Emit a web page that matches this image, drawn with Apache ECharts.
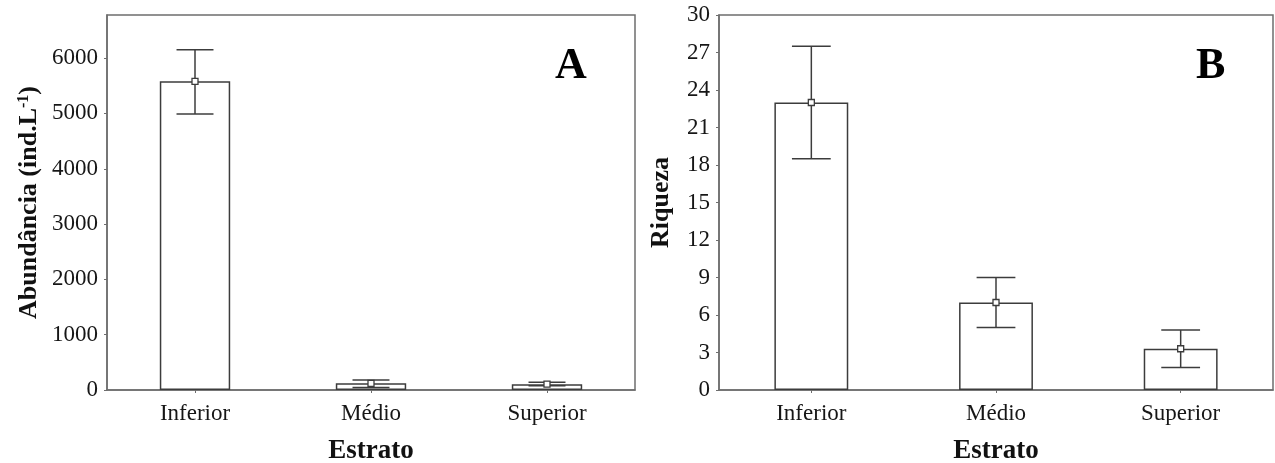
<!DOCTYPE html>
<html>
<head>
<meta charset="utf-8">
<script src="https://cdn.jsdelivr.net/npm/echarts@6/dist/echarts.min.js"></script>
<style>
html,body{margin:0;padding:0;background:#fff;}
#chart{width:1275px;height:463px;}
</style>
</head>
<body>
<div id="chart"></div>
<script>
const categories = ['Inferior', 'Médio', 'Superior'];
// Panel A: abundance (ind.L-1)
const abundMean = [5580, 120, 105];
const abundUpper = [6150, 180, 140];
const abundLower = [4990, 45, 75];
// Panel B: richness
const riqMean = [23, 7, 3.3];
const riqUpper = [27.5, 9, 4.8];
const riqLower = [18.5, 5, 1.8];

const FONT = '"Liberation Serif", "Times New Roman", serif';
const AX = '#6e6e6e';
const INK = '#3c3c3c';

function errData(mean, up, lo) {
  return mean.map((m, i) => [i, m, up[i], lo[i]]);
}

function renderErr(params, api) {
  const i = api.value(0);
  const pm = api.coord([i, api.value(1)]);
  const pu = api.coord([i, api.value(2)]);
  const pl = api.coord([i, api.value(3)]);
  const half = api.size([1, 0])[0] * 0.105;
  const st = { stroke: INK, lineWidth: 1.5 };
  const s = 6;
  return {
    type: 'group',
    children: [
      { type: 'line', shape: { x1: pu[0], y1: pu[1], x2: pl[0], y2: pl[1] }, style: st },
      { type: 'line', shape: { x1: pu[0] - half, y1: pu[1], x2: pu[0] + half, y2: pu[1] }, style: st },
      { type: 'line', shape: { x1: pl[0] - half, y1: pl[1], x2: pl[0] + half, y2: pl[1] }, style: st },
      { type: 'rect', shape: { x: pm[0] - s / 2, y: pm[1] - s / 2, width: s, height: s }, style: { fill: '#fff', stroke: INK, lineWidth: 1.3 } }
    ]
  };
}

function xAx(gi) {
  return {
    type: 'category', gridIndex: gi, data: categories,
    name: 'Estrato', nameLocation: 'middle', nameGap: 48,
    nameTextStyle: { fontFamily: FONT, fontWeight: 'bold', fontSize: 27, color: '#111' },
    axisLine: { lineStyle: { color: AX, width: 1.5 } },
    axisTick: { show: true, alignWithLabel: true, length: 3, inside: false, lineStyle: { color: AX } },
    axisLabel: { fontFamily: FONT, fontSize: 23, color: '#161616', margin: 12 },
    splitLine: { show: false }
  };
}

const plainNum = v => String(v);

const option = {
  backgroundColor: '#fff',
  animation: false,
  title: [
    { text: 'A', left: 555, top: 45, padding: 0, textStyle: { fontFamily: FONT, fontWeight: 'bold', fontSize: 44, color: '#000' } },
    { text: 'B', left: 1196, top: 45, padding: 0, textStyle: { fontFamily: FONT, fontWeight: 'bold', fontSize: 44, color: '#000' } }
  ],
  grid: [
    { left: 107, right: 640, top: 15, bottom: 73, containLabel: false, outerBoundsMode: 'none', show: true, borderColor: AX, borderWidth: 1.5, backgroundColor: 'transparent' },
    { left: 719, right: 2, top: 15, bottom: 73, containLabel: false, outerBoundsMode: 'none', show: true, borderColor: AX, borderWidth: 1.5, backgroundColor: 'transparent' }
  ],
  xAxis: [xAx(0), xAx(1)],
  yAxis: [
    {
      type: 'value', gridIndex: 0, min: 0, max: 6780, interval: 1000,
      name: '{a|Abundância (ind.L}{s|-1}{a|)}', nameLocation: 'middle', nameGap: 65,
      nameTextStyle: {
        rich: {
          a: { fontFamily: FONT, fontWeight: 'bold', fontSize: 26, color: '#111' },
          s: { fontFamily: FONT, fontWeight: 'bold', fontSize: 16, color: '#111', verticalAlign: 'top' }
        }
      },
      axisLine: { show: true, lineStyle: { color: AX, width: 1.5 } },
      axisTick: { show: true, length: 3, lineStyle: { color: AX } },
      axisLabel: { fontFamily: FONT, fontSize: 23, color: '#161616', margin: 9, showMaxLabel: false, formatter: plainNum },
      splitLine: { show: false }
    },
    {
      type: 'value', gridIndex: 1, min: 0, max: 30, interval: 3,
      name: 'Riqueza', nameLocation: 'middle', nameGap: 45,
      nameTextStyle: { fontFamily: FONT, fontWeight: 'bold', fontSize: 26, color: '#111' },
      axisLine: { show: true, lineStyle: { color: AX, width: 1.5 } },
      axisTick: { show: true, length: 3, lineStyle: { color: AX } },
      axisLabel: { fontFamily: FONT, fontSize: 23, color: '#161616', margin: 9, formatter: plainNum },
      splitLine: { show: false }
    }
  ],
  series: [
    {
      type: 'bar', xAxisIndex: 0, yAxisIndex: 0, data: abundMean, barWidth: '40%',
      itemStyle: { color: '#fff', borderColor: INK, borderWidth: 1.5 }
    },
    {
      type: 'custom', xAxisIndex: 0, yAxisIndex: 0, data: errData(abundMean, abundUpper, abundLower),
      renderItem: renderErr, z: 5
    },
    {
      type: 'bar', xAxisIndex: 1, yAxisIndex: 1, data: riqMean, barWidth: '40%',
      itemStyle: { color: '#fff', borderColor: INK, borderWidth: 1.5 }
    },
    {
      type: 'custom', xAxisIndex: 1, yAxisIndex: 1, data: errData(riqMean, riqUpper, riqLower),
      renderItem: renderErr, z: 5
    }
  ]
};

const chart = echarts.init(document.getElementById('chart'), null, { renderer: 'canvas' });
chart.setOption(option);
</script>
</body>
</html>
